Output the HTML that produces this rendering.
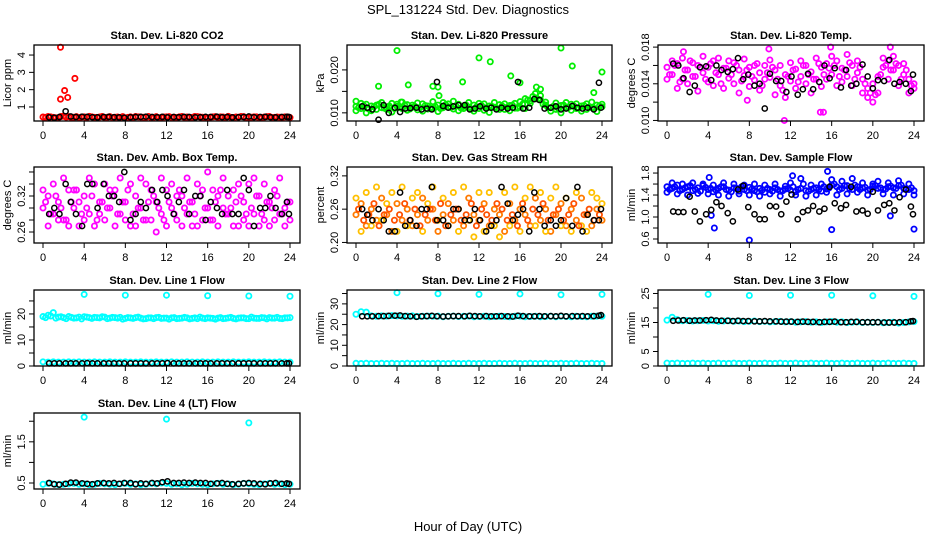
<!DOCTYPE html>
<html><head><meta charset="utf-8">
<style>
html,body{margin:0;padding:0;background:#fff;}
svg{display:block;font-family:"Liberation Sans",Arial,sans-serif;}
</style></head>
<body>
<svg id="chart" width="936" height="540" viewBox="0 0 936 540">
<text x="468" y="14" text-anchor="middle" font-size="13">SPL_131224  Std. Dev. Diagnostics</text>
<text x="468" y="531" text-anchor="middle" font-size="13">Hour of Day (UTC)</text>
</svg>
<script>
// ---- shared hours ----
const hoursColor = [0,0.5,1,1.5,2,2.5,3,3.5,4,4.5,5,5.5,6,6.5,7,7.5,8,8.5,9,9.5,10,10.5,11,11.5,12,12.5,13,13.5,14,14.5,15,15.5,16,16.5,17,17.5,18,18.5,19,19.5,20,20.5,21,21.5,22,22.5,23,23.5,24];
const hoursColorQ = [0.25,0.75,1.25,1.75,2.25,2.75,3.25,3.75,4.25,4.75,5.25,5.75,6.25,6.75,7.25,7.75,8.25,8.75,9.25,9.75,10.25,10.75,11.25,11.75,12.25,12.75,13.25,13.75,14.25,14.75,15.25,15.75,16.25,16.75,17.25,17.75,18.25,18.75,19.25,19.75,20.25,20.75,21.25,21.75,22.25,22.75,23.25,23.75];
const hoursBlack = [0.6,1.1,1.6,2.2,2.7,3.2,3.8,4.3,4.8,5.3,5.9,6.4,6.9,7.4,7.9,8.5,9.0,9.5,10.0,10.6,11.1,11.6,12.1,12.7,13.2,13.7,14.2,14.8,15.3,15.8,16.3,16.9,17.4,17.9,18.4,19.0,19.5,20.0,20.5,21.1,21.6,22.1,22.6,23.2,23.7,23.9];
const xTicks = [0,4,8,12,16,20,24];

// ---- Panel 1: CO2 ----
const co2Red = [0.42,0.45,0.40,0.38,0.47,0.44,0.41,0.39,0.43,0.46,0.40,0.42,0.38,0.44,0.41,0.40,0.37,0.43,0.45,0.42,0.40,0.38,0.44,0.41,0.43,0.40,0.39,0.45,0.42,0.40,0.44,0.41,0.38,0.43,0.40,0.42,0.46,0.39,0.41,0.44,0.40,0.43,0.38,0.42,0.45,0.40,0.41,0.43,0.39];
const co2RedC = [0.40,0.43,0.38,0.45,0.41,0.39,0.44,0.42,0.37,0.43,0.40,0.45,0.41,0.38,0.42,0.44,0.40,0.39,0.43,0.41,0.45,0.40,0.38,0.42,0.44,0.41,0.43,0.39,0.40,0.45,0.42,0.38,0.41,0.44,0.43,0.39,0.40,0.42,0.45,0.38,0.41,0.43,0.40,0.44,0.39,0.42,0.40,0.43];
const co2OutHours = [1.7,1.7,2.1,2.4,3.1];
const co2OutVals = [4.45,1.45,1.95,1.55,2.65];
const co2Black = [0.40,0.38,0.42,0.75,0.45,0.42,0.44,0.43,0.41,0.40,0.42,0.43,0.41,0.40,0.38,0.41,0.42,0.43,0.44,0.42,0.41,0.43,0.40,0.42,0.41,0.43,0.42,0.40,0.41,0.43,0.42,0.44,0.41,0.42,0.40,0.41,0.42,0.45,0.41,0.42,0.43,0.41,0.40,0.42,0.43,0.42];
// ---- Panel 2: Pressure ----
const presGreenA = [0.0115,0.0110,0.0120,0.0105,0.0118,0.0112,0.0108,0.0122,0.0115,0.0110,0.0119,0.0113,0.0107,0.0121,0.0116,0.0111,0.0118,0.0124,0.0114,0.0109,0.0120,0.0115,0.0112,0.0118,0.0110,0.0121,0.0116,0.0113,0.0119,0.0108,0.0117,0.0122,0.0114,0.0110,0.0128,0.0135,0.0140,0.0125,0.0112,0.0108,0.0117,0.0113,0.0120,0.0110,0.0116,0.0121,0.0112,0.0118,0.0114];
const presGreenB = [0.0105,0.0122,0.0100,0.0116,0.0108,0.0124,0.0113,0.0102,0.0120,0.0125,0.0106,0.0118,0.0123,0.0104,0.0109,0.0126,0.0103,0.0112,0.0121,0.0127,0.0105,0.0110,0.0124,0.0104,0.0122,0.0106,0.0101,0.0124,0.0108,0.0121,0.0105,0.0111,0.0126,0.0133,0.0122,0.0145,0.0130,0.0118,0.0104,0.0123,0.0100,0.0124,0.0106,0.0121,0.0104,0.0108,0.0125,0.0103,0.0120];
const presGreenC = [0.0112,0.0117,0.0109,0.0114,0.0120,0.0111,0.0116,0.0110,0.0113,0.0118,0.0109,0.0115,0.0112,0.0117,0.0111,0.0114,0.0110,0.0119,0.0113,0.0116,0.0111,0.0118,0.0109,0.0114,0.0117,0.0112,0.0115,0.0110,0.0116,0.0113,0.0118,0.0111,0.0120,0.0130,0.0138,0.0132,0.0120,0.0112,0.0115,0.0110,0.0118,0.0113,0.0116,0.0111,0.0117,0.0114,0.0110,0.0116];
const presOutHours = [0,2.2,4.0,4.4,5.1,7.5,8.0,8.1,10.4,12.0,13.1,15.1,16.0,17.6,18.0,20.0,21.1,23.2,24.0];
const presOutVals = [0.0127,0.0162,0.0245,0.0125,0.0165,0.0162,0.0160,0.0140,0.0172,0.0228,0.0219,0.0186,0.0170,0.0160,0.0155,0.0251,0.0209,0.0147,0.0195];
const presBlack = [0.0115,0.0112,0.0108,0.0084,0.0118,0.0100,0.0112,0.0102,0.0110,0.0111,0.0112,0.0108,0.0110,0.0108,0.0172,0.0116,0.0112,0.0115,0.0118,0.0118,0.0108,0.0110,0.0115,0.0110,0.0112,0.0108,0.0112,0.0110,0.0112,0.0172,0.0110,0.0112,0.0132,0.0130,0.0110,0.0112,0.0115,0.0108,0.0110,0.0116,0.0112,0.0110,0.0112,0.0108,0.0170,0.0112];
// ---- Panel 3: Li-820 Temp ----
const tempMagA = [0.0158,0.0150,0.0162,0.0145,0.0155,0.0148,0.0160,0.0152,0.0142,0.0165,0.0150,0.0157,0.0146,0.0163,0.0155,0.0149,0.0158,0.0144,0.0152,0.0160,0.0147,0.0155,0.0138,0.0150,0.0143,0.0156,0.0148,0.0160,0.0153,0.0145,0.0158,0.0162,0.0150,0.0165,0.0157,0.0148,0.0160,0.0152,0.0145,0.0135,0.0140,0.0148,0.0158,0.0165,0.0155,0.0160,0.0150,0.0145,0.0140];
const tempMagB = [0.0145,0.0165,0.0135,0.0168,0.0140,0.0163,0.0132,0.0170,0.0158,0.0138,0.0168,0.0135,0.0165,0.0140,0.0130,0.0167,0.0137,0.0160,0.0133,0.0145,0.0166,0.0128,0.0160,0.0125,0.0163,0.0135,0.0165,0.0140,0.0130,0.0168,0.0137,0.0145,0.0170,0.0138,0.0142,0.0172,0.0138,0.0165,0.0130,0.0125,0.0120,0.0130,0.0168,0.0145,0.0170,0.0138,0.0162,0.0130,0.0135];
const tempMagC = [0.0150,0.0160,0.0142,0.0155,0.0165,0.0148,0.0158,0.0145,0.0162,0.0152,0.0140,0.0157,0.0150,0.0160,0.0143,0.0155,0.0148,0.0162,0.0138,0.0152,0.0158,0.0145,0.0133,0.0148,0.0155,0.0142,0.0160,0.0150,0.0145,0.0162,0.0150,0.0157,0.0160,0.0148,0.0155,0.0163,0.0145,0.0158,0.0140,0.0130,0.0128,0.0150,0.0160,0.0155,0.0162,0.0145,0.0155,0.0138];
const tempOutHours = [7.8,9.9,11.4,14.9,15.2,15.9,21.7,1.6];
const tempOutVals = [0.0122,0.0178,0.0100,0.0109,0.0109,0.0180,0.0180,0.0175];
const tempBlack = [0.0162,0.0160,0.0146,0.0131,0.0138,0.0158,0.0159,0.0144,0.0160,0.0155,0.0153,0.0156,0.0168,0.0145,0.0150,0.0138,0.0140,0.0113,0.0151,0.0143,0.0143,0.0131,0.0148,0.0128,0.0134,0.0151,0.0134,0.0142,0.0160,0.0146,0.0157,0.0136,0.0155,0.0138,0.0140,0.0161,0.0148,0.0135,0.0144,0.0143,0.0166,0.0140,0.0142,0.0140,0.0132,0.0150];
// ---- Panel 4: Amb. Box Temp ----
const ambMagA = [0.30,0.32,0.29,0.31,0.28,0.33,0.30,0.27,0.32,0.29,0.34,0.31,0.28,0.30,0.33,0.29,0.31,0.27,0.32,0.30,0.34,0.28,0.31,0.29,0.33,0.30,0.28,0.32,0.29,0.31,0.27,0.33,0.30,0.28,0.32,0.30,0.29,0.33,0.27,0.31,0.34,0.29,0.32,0.28,0.31,0.33,0.29,0.30,0.31];
const ambMagB = [0.33,0.27,0.34,0.28,0.35,0.27,0.33,0.31,0.28,0.35,0.27,0.29,0.34,0.33,0.27,0.35,0.28,0.34,0.27,0.35,0.28,0.33,0.26,0.35,0.27,0.34,0.32,0.27,0.35,0.27,0.34,0.28,0.36,0.33,0.27,0.35,0.32,0.27,0.34,0.28,0.27,0.35,0.27,0.34,0.27,0.28,0.35,0.27,0.28];
const ambMagC = [0.31,0.29,0.32,0.30,0.28,0.31,0.33,0.29,0.30,0.32,0.28,0.31,0.30,0.32,0.29,0.31,0.33,0.29,0.30,0.28,0.31,0.32,0.30,0.28,0.31,0.29,0.33,0.30,0.31,0.29,0.32,0.30,0.28,0.31,0.33,0.29,0.30,0.31,0.32,0.29,0.30,0.32,0.29,0.31,0.30,0.32,0.29,0.31];
const ambBlack = [0.29,0.30,0.29,0.34,0.31,0.29,0.27,0.34,0.34,0.30,0.34,0.32,0.32,0.31,0.36,0.28,0.29,0.31,0.30,0.33,0.31,0.33,0.32,0.29,0.31,0.33,0.29,0.32,0.32,0.28,0.31,0.30,0.29,0.33,0.29,0.29,0.35,0.33,0.27,0.30,0.30,0.32,0.30,0.29,0.31,0.29];
// ---- Panel 5: Gas Stream RH ----
const rhOrgA = [0.25,0.27,0.23,0.26,0.24,0.28,0.25,0.22,0.27,0.24,0.26,0.23,0.25,0.28,0.24,0.26,0.22,0.25,0.27,0.24,0.26,0.23,0.28,0.25,0.24,0.27,0.23,0.26,0.25,0.22,0.27,0.24,0.26,0.25,0.23,0.28,0.24,0.26,0.22,0.25,0.27,0.23,0.26,0.24,0.28,0.25,0.23,0.26,0.24];
const rhOrgB = [0.28,0.22,0.29,0.23,0.30,0.24,0.27,0.29,0.22,0.30,0.23,0.28,0.29,0.22,0.27,0.30,0.24,0.28,0.23,0.29,0.22,0.30,0.24,0.21,0.29,0.22,0.29,0.23,0.21,0.29,0.23,0.30,0.22,0.28,0.30,0.23,0.29,0.22,0.28,0.30,0.23,0.28,0.22,0.29,0.23,0.22,0.29,0.28,0.27];
const rhOrgC = [0.26,0.24,0.25,0.27,0.23,0.25,0.26,0.24,0.25,0.27,0.24,0.26,0.23,0.25,0.26,0.24,0.27,0.23,0.25,0.26,0.24,0.25,0.27,0.23,0.26,0.25,0.24,0.27,0.26,0.24,0.25,0.23,0.27,0.24,0.26,0.25,0.27,0.24,0.25,0.26,0.24,0.25,0.27,0.23,0.25,0.26,0.24,0.25];
const rhBlack = [0.26,0.25,0.24,0.26,0.24,0.22,0.22,0.29,0.23,0.24,0.23,0.26,0.26,0.30,0.24,0.24,0.23,0.26,0.26,0.24,0.24,0.26,0.24,0.22,0.23,0.24,0.30,0.27,0.24,0.25,0.26,0.22,0.29,0.26,0.23,0.24,0.23,0.24,0.28,0.23,0.30,0.22,0.25,0.24,0.24,0.26];
// ---- Panel 6: Sample Flow ----
const flowBlueA = [1.55,1.52,1.58,1.50,1.55,1.48,1.53,1.57,1.50,1.46,1.52,1.55,1.49,1.53,1.47,1.50,1.54,1.48,1.52,1.45,1.50,1.53,1.47,1.51,1.49,1.46,1.52,1.48,1.50,1.53,1.47,1.51,1.58,1.55,1.52,1.57,1.50,1.55,1.53,1.49,1.56,1.52,1.50,1.55,1.53,1.57,1.52,1.50,1.48];
const flowBlueB = [1.45,1.62,1.42,1.60,1.40,1.62,1.43,1.60,1.42,1.58,1.40,1.62,1.38,1.60,1.42,1.58,1.40,1.60,1.38,1.58,1.42,1.60,1.38,1.56,1.62,1.40,1.70,1.38,1.58,1.40,1.60,1.45,1.68,1.40,1.65,1.42,1.70,1.45,1.62,1.40,1.60,1.65,1.42,1.62,1.40,1.66,1.42,1.60,1.40];
const flowBlueC = [1.50,1.55,1.48,1.53,1.57,1.50,1.47,1.54,1.52,1.49,1.55,1.50,1.46,1.52,1.55,1.48,1.51,1.46,1.49,1.52,1.47,1.50,1.48,1.52,1.55,1.50,1.60,1.47,1.52,1.50,1.55,1.53,1.60,1.50,1.57,1.52,1.58,1.50,1.54,1.50,1.57,1.53,1.51,1.56,1.52,1.58,1.50,1.53];
const flowOutHours = [4.3,4.6,8.0,16.0,24.0,15.6,21.7,4.1,12.2];
const flowOutVals = [1.03,0.80,0.58,0.77,0.78,1.83,1.02,1.72,1.75];
const flowBlack = [1.10,1.09,1.09,1.37,1.10,0.92,1.05,1.13,1.27,1.20,1.07,0.92,1.50,1.57,1.18,1.05,0.96,0.96,1.20,1.19,1.05,1.28,1.41,0.96,1.09,1.12,1.20,1.10,1.15,1.55,1.25,1.16,1.22,1.55,1.10,1.12,1.06,1.46,1.12,1.22,1.25,1.12,1.36,1.50,1.19,1.05];
// ---- Panel 7: Line 1 Flow ----
const l1CyanHi = [19.0,19.5,20.5,18.8,18.6,19.0,18.4,18.8,18.9,18.6,18.7,18.5,18.8,18.4,18.6,18.7,18.3,18.5,18.6,18.4,18.2,18.5,18.6,18.3,18.4,18.5,18.2,18.4,18.5,18.3,18.2,18.4,18.5,18.3,18.4,18.2,18.5,18.3,18.4,18.5,18.2,18.4,18.3,18.5,18.6,18.4,18.3,18.5,18.6];
const l1CyanHiQ = [18.6,19.2,18.4,18.9,18.2,18.7,18.5,18.1,18.8,18.3,18.6,18.9,18.2,18.7,18.4,18.0,18.6,18.3,18.8,18.1,18.5,18.2,18.7,18.4,18.0,18.6,18.3,18.7,18.1,18.5,18.8,18.2,18.4,18.0,18.6,18.3,18.7,18.1,18.5,18.2,18.8,18.3,18.6,18.1,18.4,18.7,18.2,18.5];
const l1CyanLo = [1.6,1.5,1.6,1.5,1.5,1.6,1.5,1.6,1.5,1.5,1.6,1.5,1.5,1.6,1.5,1.5,1.6,1.5,1.5,1.6,1.5,1.5,1.6,1.5,1.5,1.6,1.5,1.5,1.6,1.5,1.5,1.6,1.5,1.5,1.6,1.5,1.5,1.6,1.5,1.5,1.6,1.5,1.5,1.6,1.5,1.5,1.6,1.5,1.5];
const l1OutHours = [4,8,12,16,20,24];
const l1OutVals = [27.5,27.2,27.2,27.0,26.9,26.8];
const l1Black = [1.0,1.0,1.0,1.0,1.0,1.0,1.0,1.1,1.0,1.0,1.0,1.0,1.0,1.0,1.0,1.0,1.0,1.0,1.0,1.0,1.0,1.0,1.1,1.0,1.0,1.0,1.0,1.0,1.0,1.0,1.0,1.0,1.0,1.0,1.0,1.0,1.0,1.0,1.0,1.0,1.0,1.0,1.0,1.0,1.0,1.0];
// ---- Panel 8: Line 2 Flow ----
const l2CyanHi = [25.0,26.2,26.0,24.2,24.0,24.2,24.1,24.3,24.2,24.0,24.1,24.2,23.9,24.0,24.1,24.0,24.1,23.8,24.0,24.1,23.9,24.0,24.1,23.8,23.9,24.0,23.8,23.9,24.0,23.9,23.8,24.0,24.1,23.8,23.9,24.0,23.8,23.9,24.0,23.8,24.0,23.9,23.8,24.0,23.9,23.8,24.0,24.1,24.0];
const l2CyanLo = [1.3,1.2,1.3,1.2,1.2,1.3,1.2,1.3,1.2,1.2,1.3,1.2,1.2,1.3,1.2,1.2,1.3,1.2,1.2,1.3,1.2,1.2,1.3,1.2,1.2,1.3,1.2,1.2,1.3,1.2,1.2,1.3,1.2,1.2,1.3,1.2,1.2,1.3,1.2,1.2,1.3,1.2,1.2,1.3,1.2,1.2,1.3,1.2,1.2];
const l2OutHours = [4,8,12,16,20,24];
const l2OutVals = [35.4,34.9,34.6,34.8,34.4,34.6];
const l2Black = [24.0,24.0,24.0,24.1,24.1,24.2,24.3,24.4,24.1,24.0,23.8,24.0,24.1,24.2,24.0,23.9,24.0,24.1,24.1,24.0,24.2,24.1,24.0,24.1,24.0,24.0,24.1,24.0,23.9,24.3,24.1,24.0,24.0,24.1,24.0,24.1,24.0,24.2,24.0,24.1,24.0,24.1,24.0,24.1,24.3,24.6];
// ---- Panel 9: Line 3 Flow ----
const l3CyanHi = [15.8,16.8,16.0,15.6,15.7,15.5,15.6,15.7,15.5,15.6,15.4,15.5,15.6,15.4,15.5,15.3,15.4,15.5,15.3,15.4,15.2,15.3,15.4,15.2,15.3,15.1,15.2,15.3,15.1,15.2,15.0,15.2,15.3,15.1,15.2,15.0,15.1,15.2,15.0,15.1,15.0,15.1,14.9,15.0,15.1,14.8,15.0,15.2,15.3];
const l3CyanLo = [1.0,0.9,1.0,0.9,0.9,1.0,0.9,1.0,0.9,0.9,1.0,0.9,0.9,1.0,0.9,0.9,1.0,0.9,0.9,1.0,0.9,0.9,1.0,0.9,0.9,1.0,0.9,0.9,1.0,0.9,0.9,1.0,0.9,0.9,1.0,0.9,0.9,1.0,0.9,0.9,1.0,0.9,0.9,1.0,0.9,0.9,1.0,0.9,0.9];
const l3OutHours = [4,8,12,16,20,24];
const l3OutVals = [24.7,24.3,24.4,24.4,24.2,24.0];
const l3Black = [15.6,15.7,15.8,15.6,15.7,15.7,15.8,15.9,15.7,15.6,15.6,15.5,15.6,15.5,15.5,15.4,15.4,15.5,15.4,15.4,15.3,15.3,15.3,15.2,15.3,15.2,15.2,15.1,15.2,15.2,15.3,15.1,15.1,15.2,15.2,15.1,15.1,15.1,15.1,15.0,15.0,15.0,15.1,15.1,15.4,15.5];
// ---- Panel 10: Line 4 (LT) Flow ----
const l4Cyan = [0.47,0.49,0.48,0.46,0.47,0.48,0.49,0.47,0.48,0.46,0.47,0.49,0.48,0.47,0.46,0.48,0.49,0.47,0.48,0.46,0.47,0.49,0.48,0.50,0.49,0.47,0.48,0.46,0.47,0.49,0.48,0.47,0.46,0.48,0.49,0.47,0.48,0.46,0.47,0.49,0.48,0.47,0.46,0.48,0.49,0.47,0.48,0.46,0.47];
const l4OutHours = [4,12,20];
const l4OutVals = [2.10,2.05,1.96];
const l4Black = [0.50,0.47,0.46,0.48,0.51,0.51,0.49,0.48,0.47,0.49,0.50,0.49,0.50,0.48,0.50,0.50,0.47,0.49,0.48,0.50,0.49,0.52,0.54,0.50,0.50,0.51,0.50,0.51,0.50,0.50,0.48,0.49,0.50,0.48,0.47,0.48,0.49,0.50,0.49,0.48,0.47,0.49,0.50,0.48,0.49,0.48];

// ---- layout ----
const svg = document.getElementById('chart');
const NS = 'http://www.w3.org/2000/svg';
const COLS = [[34,300],[347,612],[658,924]];
const ROWS = [[45,121],[167,243],[290,366],[413,489]];

function mk(tag, attrs, parent){
  const e = document.createElementNS(NS, tag);
  for (const k in attrs) e.setAttribute(k, attrs[k]);
  (parent||svg).appendChild(e);
  return e;
}

const panels = [
 {key:'co2', title:'Stan. Dev. Li-820 CO2', ylab:'Licor ppm', c:0, r:0, ymin:0.19, ymax:4.58, ticks:[1,2,3,4], labels:['1','2','3','4'],
  series:[[hoursColor,co2Red,'#ff0000'],[hoursColorQ,co2RedC,'#ff0000'],[co2OutHours,co2OutVals,'#ff0000'],[hoursBlack,co2Black,'#000']]},
 {key:'pressure', title:'Stan. Dev. Li-820 Pressure', ylab:'kPa', c:1, r:0, ymin:0.0081, ymax:0.0258, ticks:[0.010,0.015,0.020], labels:['0.010','','0.020'],
  series:[[hoursColor,presGreenA,'#00ee00'],[hoursColor,presGreenB,'#00ee00'],[hoursColorQ,presGreenC,'#00ee00'],[presOutHours,presOutVals,'#00ee00'],[hoursBlack,presBlack,'#000']]},
 {key:'temp', title:'Stan. Dev. Li-820 Temp.', ylab:'degrees C', c:2, r:0, ymin:0.00994, ymax:0.01823, ticks:[0.010,0.012,0.014,0.016,0.018], labels:['0.010','','0.014','','0.018'],
  series:[[hoursColor,tempMagA,'#ff00ff'],[hoursColor,tempMagB,'#ff00ff'],[hoursColorQ,tempMagC,'#ff00ff'],[tempOutHours,tempOutVals,'#ff00ff'],[hoursBlack,tempBlack,'#000']]},
 {key:'amb', title:'Stan. Dev. Amb. Box Temp.', ylab:'degrees C', c:0, r:1, ymin:0.2417, ymax:0.3683, ticks:[0.26,0.28,0.30,0.32,0.34,0.36], labels:['0.26','','','0.32','',''],
  series:[[hoursColor,ambMagA,'#ff00ff'],[hoursColor,ambMagB,'#ff00ff'],[hoursColorQ,ambMagC,'#ff00ff'],[hoursBlack,ambBlack,'#000']]},
 {key:'rh', title:'Stan. Dev. Gas Stream RH', ylab:'percent', c:1, r:1, ymin:0.199, ymax:0.336, ticks:[0.20,0.26,0.32], labels:['0.20','0.26','0.32'],
  series:[[hoursColor,rhOrgA,'#ff7a00'],[hoursColor,rhOrgB,'#ffc000'],[hoursColorQ,rhOrgC,'#ff5000'],[hoursBlack,rhBlack,'#000']]},
 {key:'sample', title:'Stan. Dev. Sample Flow', ylab:'ml/min', c:2, r:1, ymin:0.527, ymax:1.91, ticks:[0.6,0.8,1.0,1.2,1.4,1.6,1.8], labels:['0.6','','1.0','','1.4','','1.8'],
  series:[[hoursColor,flowBlueA,'#0000ff'],[hoursColor,flowBlueB,'#0000ff'],[hoursColorQ,flowBlueC,'#0000ff'],[flowOutHours,flowOutVals,'#0000ff'],[hoursBlack,flowBlack,'#000']]},
 {key:'line1', title:'Stan. Dev. Line 1 Flow', ylab:'ml/min', c:0, r:2, ymin:0, ymax:29.2, ticks:[0,5,10,15,20,25], labels:['0','','10','','20',''],
  series:[[hoursColor,l1CyanHi,'#00ffff'],[hoursColorQ,l1CyanHiQ,'#00ffff'],[hoursColor,l1CyanLo,'#00ffff'],[l1OutHours,l1OutVals,'#00ffff'],[hoursBlack,l1Black,'#000']]},
 {key:'line2', title:'Stan. Dev. Line 2 Flow', ylab:'ml/min', c:1, r:2, ymin:0, ymax:36.7, ticks:[0,5,10,15,20,25,30,35], labels:['0','','10','','20','','30',''],
  series:[[hoursColor,l2CyanHi,'#00ffff'],[hoursColor,l2CyanLo,'#00ffff'],[l2OutHours,l2OutVals,'#00ffff'],[hoursBlack,l2Black,'#000']]},
 {key:'line3', title:'Stan. Dev. Line 3 Flow', ylab:'ml/min', c:2, r:2, ymin:0, ymax:26.2, ticks:[0,5,10,15,20,25], labels:['0','5','','15','','25'],
  series:[[hoursColor,l3CyanHi,'#00ffff'],[hoursColor,l3CyanLo,'#00ffff'],[l3OutHours,l3OutVals,'#00ffff'],[hoursBlack,l3Black,'#000']]},
 {key:'line4', title:'Stan. Dev. Line 4 (LT) Flow', ylab:'ml/min', c:0, r:3, ymin:0.354, ymax:2.20, ticks:[0.5,1.0,1.5,2.0], labels:['0.5','','1.5',''],
  series:[[hoursColor,l4Cyan,'#00ffff'],[l4OutHours,l4OutVals,'#00ffff'],[hoursBlack,l4Black,'#000']]}
];

panels.forEach(p => {
  const [x0,x1] = COLS[p.c], [y0,y1] = ROWS[p.r];
  const g = mk('g', {});
  
  
  const xs = h => x0 + 9 + h/24*(x1 - x0 - 19);
  const ys = v => y1 - (v - p.ymin)/(p.ymax - p.ymin)*(y1 - y0);

  const t = mk('text', {x:(x0+x1)/2, y:y0-6, 'text-anchor':'middle', 'font-size':'11', 'font-weight':'bold'}, g);
  t.textContent = p.title;
  
  

  const yl = mk('text', {x:0, y:0, 'text-anchor':'middle', 'font-size':'11', transform:`translate(${x0-23},${(y0+y1)/2}) rotate(-90)`}, g);
  yl.textContent = p.ylab;
  
  

  xTicks.forEach(h => {
    mk('line', {x1:xs(h), x2:xs(h), y1:y1, y2:y1+5, stroke:'#000', 'stroke-width':1}, g);
    const lt = mk('text', {x:xs(h), y:y1+18, 'text-anchor':'middle', 'font-size':'11'}, g);
    lt.textContent = h;
    
    
  });
  p.ticks.forEach((v,i) => {
    mk('line', {x1:x0-5, x2:x0, y1:ys(v), y2:ys(v), stroke:'#000', 'stroke-width':1}, g);
    if (p.labels[i]) {
      const lt = mk('text', {x:0, y:0, 'text-anchor':'middle', 'font-size':'11', transform:`translate(${x0-9},${ys(v)}) rotate(-90)`}, g);
      lt.textContent = p.labels[i];
      
      
    }
  });
  p.series.forEach(([hs, vals, col]) => {
    const black = col === '#000';
    const sg = mk('g', {fill:'none', stroke:col, 'stroke-width': black ? 1.5 : 1.8}, g);
    
    
    vals.forEach((v,i) => {
      const c = mk('circle', {cx:xs(hs[i]), cy:ys(v), r:2.6}, sg);
      
      
    });
  });
  const box = mk('rect', {x:x0, y:y0, width:x1-x0, height:y1-y0, fill:'none', stroke:'#000', 'stroke-width':1.3}, g);
  
  
});
</script>
</body></html>
